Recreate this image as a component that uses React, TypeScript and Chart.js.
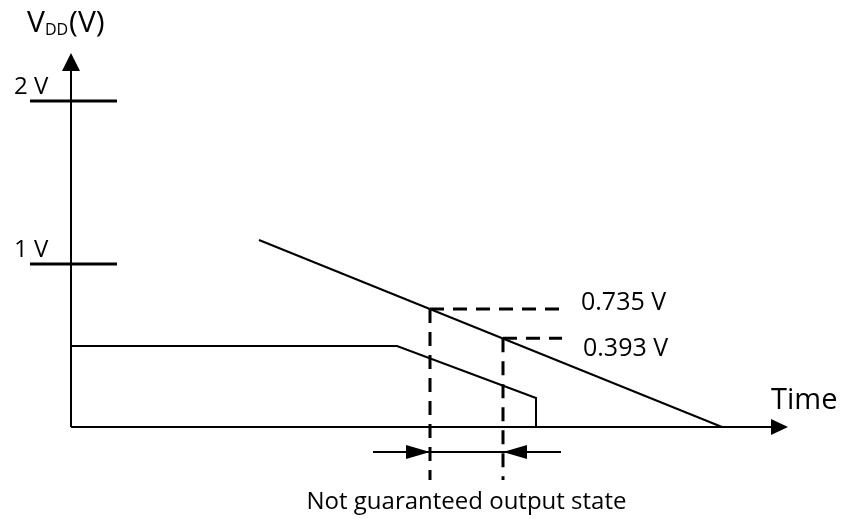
import React, { useEffect, useRef } from "react";
import { Chart, registerables } from "chart.js";

Chart.register(...registerables);

// ---- data (time in arbitrary units, voltage in V) ----
const tickVolts = [1, 2];
const tickLabels = ["1 V", "2 V"];

const upperTime = [188, 651];
const upperVolt = [1.147, 0];

const lowerTime = [0, 326, 465, 465];
const lowerVolt = [0.497, 0.497, 0.178, 0];

const markerTime = [359, 432];
const markerVolt = [0.724, 0.544];
const markerLabels = ["0.735 V", "0.393 V"];

const yAxisTitle = ["V", "DD", "(V)"];
const xAxisTitle = "Time";
const spanLabel = "Not guaranteed output state";

// ---- layout constants (scale units) ----
const X_MIN = -71;
const X_MAX = 771;
const Y_MIN = -92 / 163;
const Y_MAX = 427 / 163;
const Y_AXIS_TOP = 2.294;
const X_AXIS_END = 717;
const TICK_FROM = -41;
const TICK_TO = 46;
const GUIDE_END = 491;
const GUIDE_BOTTOM = -0.325;
const SPAN_V = -0.153;
const SPAN_FROM = 302;
const SPAN_TO = 490;
const markerLabelT = [510, 512];
const markerLabelV = [0.761, 0.482];

const FONT = "'Open Sans', 'Noto Sans', sans-serif";

function line(pts: { x: number; y: number }[], width: number, dash: number[] = []) {
  return {
    data: pts,
    showLine: true,
    borderColor: "#000",
    backgroundColor: "#000",
    borderWidth: width,
    borderDash: dash,
    pointRadius: 0,
    pointHoverRadius: 0,
    fill: false,
    tension: 0,
  };
}

export default function App() {
  const ref = useRef<HTMLCanvasElement | null>(null);

  useEffect(() => {
    if (!ref.current) return;

    const datasets: any[] = [];
    // axes
    datasets.push(line([{ x: 0, y: 0 }, { x: X_AXIS_END - 10, y: 0 }], 2));
    datasets.push(line([{ x: 0, y: 0 }, { x: 0, y: Y_AXIS_TOP - 0.06 }], 2));
    // ticks
    tickVolts.forEach((v) => {
      datasets.push(line([{ x: TICK_FROM, y: v }, { x: TICK_TO, y: v }], 3));
    });
    // supply curves
    datasets.push(line(upperTime.map((t, i) => ({ x: t, y: upperVolt[i] })), 2));
    datasets.push(line(lowerTime.map((t, i) => ({ x: t, y: lowerVolt[i] })), 2));
    // dashed guides
    markerTime.forEach((t, i) => {
      const v = markerVolt[i];
      datasets.push(line([{ x: t, y: v }, { x: GUIDE_END, y: v }], 3, [14, 9]));
      datasets.push(line([{ x: t, y: v }, { x: t, y: GUIDE_BOTTOM }], 3, [14, 9]));
    });
    // span dimension line
    datasets.push(line([{ x: SPAN_FROM, y: SPAN_V }, { x: SPAN_TO, y: SPAN_V }], 2));

    const annotations = {
      id: "annotations",
      afterDatasetsDraw(chart: any) {
        const ctx = chart.ctx as CanvasRenderingContext2D;
        const xs = chart.scales.x;
        const ys = chart.scales.y;
        const px = (t: number) => xs.getPixelForValue(t);
        const py = (v: number) => ys.getPixelForValue(v);
        ctx.save();
        ctx.fillStyle = "#000";

        const tri = (a: number[], b: number[], c: number[]) => {
          ctx.beginPath();
          ctx.moveTo(a[0], a[1]);
          ctx.lineTo(b[0], b[1]);
          ctx.lineTo(c[0], c[1]);
          ctx.closePath();
          ctx.fill();
        };

        // axis arrowheads
        const ox = px(0);
        const yTop = py(Y_AXIS_TOP);
        tri([ox, yTop], [ox - 9, yTop + 18], [ox + 9, yTop + 18]);
        const xEnd = px(X_AXIS_END);
        const oy = py(0);
        tri([xEnd, oy], [xEnd - 17, oy - 8], [xEnd - 17, oy + 8]);

        // span arrowheads
        const sy = py(SPAN_V);
        const a1 = px(markerTime[0]);
        tri([a1, sy], [a1 - 24, sy - 7], [a1 - 24, sy + 7]);
        const a2 = px(markerTime[1]);
        tri([a2, sy], [a2 + 24, sy - 7], [a2 + 24, sy + 7]);

        // tick labels
        ctx.textBaseline = "alphabetic";
        ctx.textAlign = "left";
        ctx.font = `24px ${FONT}`;
        tickVolts.forEach((v, i) => {
          ctx.fillText(tickLabels[i], px(-57), py(v) - 7);
        });

        // marker labels
        ctx.font = `25px ${FONT}`;
        ctx.textBaseline = "middle";
        markerLabels.forEach((s, i) => {
          ctx.fillText(s, px(markerLabelT[i]), py(markerLabelV[i]));
        });

        // y axis title with subscript
        ctx.textBaseline = "alphabetic";
        let x = 27;
        const base = 32;
        ctx.font = `30px ${FONT}`;
        ctx.fillText(yAxisTitle[0], x, base);
        x += ctx.measureText(yAxisTitle[0]).width;
        ctx.font = `16px ${FONT}`;
        ctx.fillText(yAxisTitle[1], x, base + 3);
        x += ctx.measureText(yAxisTitle[1]).width + 1;
        ctx.font = `30px ${FONT}`;
        ctx.fillText(yAxisTitle[2], x, base);

        // x axis title
        ctx.font = `29px ${FONT}`;
        ctx.fillText(xAxisTitle, px(X_AXIS_END) - 17, oy - 18);

        // span label
        ctx.font = `24px ${FONT}`;
        ctx.textAlign = "center";
        ctx.fillText(spanLabel, (a1 + a2) / 2, sy + 57);

        ctx.restore();
      },
    };

    const chart = new Chart(ref.current, {
      type: "scatter",
      data: { datasets },
      options: {
        animation: false,
        responsive: false,
        maintainAspectRatio: false,
        layout: { padding: 0 },
        events: [],
        plugins: {
          legend: { display: false },
          tooltip: { enabled: false },
        },
        scales: {
          x: { type: "linear", min: X_MIN, max: X_MAX, display: false },
          y: { type: "linear", min: Y_MIN, max: Y_MAX, display: false },
        },
      },
      plugins: [annotations],
    } as any);

    return () => chart.destroy();
  }, []);

  return (
    <div style={{ position: "absolute", left: 0, top: 0, width: 842, height: 519, background: "#fff" }}>
      <canvas ref={ref} width={842} height={519} style={{ display: "block" }} />
    </div>
  );
}
